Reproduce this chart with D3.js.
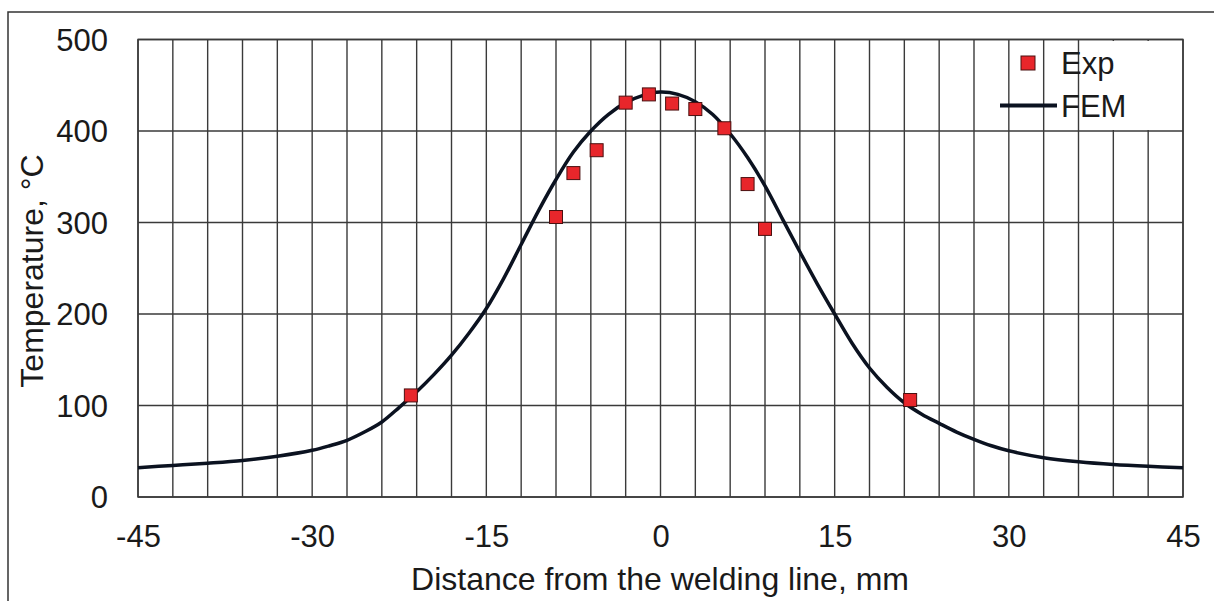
<!DOCTYPE html>
<html>
<head>
<meta charset="utf-8">
<script src="https://cdn.jsdelivr.net/npm/d3@7"></script>
<style>
  html, body { margin: 0; padding: 0; background: #fff; }
  svg { display: block; font-family: "Liberation Sans", Arial, sans-serif; }
</style>
</head>
<body>
<svg id="chart" width="1214" height="601"></svg>
<script>
// ---- data ----
const xTickLabels = [-45, -30, -15, 0, 15, 30, 45];
const yTickLabels = [0, 100, 200, 300, 400, 500];
const xGridStep = 3;

const femX = [-45,-42,-39,-36,-33,-30,-28.5,-27,-25.5,-24,-22.5,-21,-19.5,-18,-16.5,-15,-13.5,-12,-10.5,-9,-7.5,-6,-4.5,-3,-1.5,0,1.5,3,4.5,6,7.5,9,10.5,12,13.5,15,16.5,18,19.5,21,22.5,24,25.5,27,28.5,30,33,36,39,42,45];
const femT = [32,34.5,37,40,44.5,51,56,62,71,82,98,115,134,155,179,206,239,276,313,347,377,400,418,431,439,442.5,440,432,418,397,371,340,304,268,233,200,168,141,120,103,90.5,80.5,71,63,56,50.5,43,38.5,35.5,33.5,32];

const expX = [-21.5, -9, -7.5, -5.5, -3, -1, 1, 3, 5.5, 7.5, 9, 21.5];
const expT = [111, 306, 354, 379, 431, 440, 430, 424, 403, 342, 293, 106];

const seriesNames = ["Exp", "FEM"];
const xTitle = "Distance from the welding line, mm";
const yTitle = "Temperature, °C";

// ---- layout ----
const svg = d3.select("#chart");
const pL = 138, pR = 1183, pT = 39.5, pB = 497;
const x = d3.scaleLinear().domain([-45, 45]).range([pL, pR]);
const y = d3.scaleLinear().domain([0, 500]).range([pB, pT]);

const gridColor = "#3a3a3a";
const fontSize = 31;
const textColor = "#1a1a1a";

// outer frame
svg.append("rect")
  .attr("x", 8).attr("y", 12).attr("width", 1215).attr("height", 600)
  .attr("fill", "#fff").attr("stroke", "#333").attr("stroke-width", 1.5);

// vertical grid
const xGrid = d3.range(-45, 45 + 0.001, xGridStep);
svg.append("g").selectAll("line").data(xGrid).join("line")
  .attr("x1", d => x(d)).attr("x2", d => x(d))
  .attr("y1", pT).attr("y2", pB)
  .attr("stroke", gridColor).attr("stroke-width", 1.4);

// horizontal grid
svg.append("g").selectAll("line").data(yTickLabels).join("line")
  .attr("x1", pL).attr("x2", pR)
  .attr("y1", d => y(d)).attr("y2", d => y(d))
  .attr("stroke", gridColor).attr("stroke-width", 1.4);

// legend background (covers grid)
svg.append("rect")
  .attr("x", x(36.3)).attr("y", pT + 1.5)
  .attr("width", x(44.8) - x(36.3)).attr("height", y(400) - pT - 2.5)
  .attr("fill", "#fff");

// plot border
svg.append("rect")
  .attr("x", pL).attr("y", pT).attr("width", pR - pL).attr("height", pB - pT)
  .attr("fill", "none").attr("stroke", gridColor).attr("stroke-width", 1.5);

// axes (labels only)
const xAxis = d3.axisBottom(x).tickValues(xTickLabels).tickSize(0).tickPadding(0).tickFormat(d => String(d));
const gx = svg.append("g").attr("transform", `translate(0,${pB})`).call(xAxis);
gx.select(".domain").remove();
gx.selectAll("text").attr("font-size", fontSize).attr("fill", textColor)
  .attr("font-family", "Liberation Sans, Arial, sans-serif")
  .attr("dy", null).attr("y", 50);

const yAxis = d3.axisLeft(y).tickValues(yTickLabels).tickSize(0).tickPadding(0).tickFormat(d => String(d));
const gy = svg.append("g").attr("transform", `translate(108,0)`).call(yAxis);
gy.select(".domain").remove();
gy.selectAll("text").attr("font-size", fontSize).attr("fill", textColor)
  .attr("font-family", "Liberation Sans, Arial, sans-serif")
  .attr("dy", "0.35em").attr("x", 0);

// axis titles
svg.append("text")
  .attr("x", (412 + 908) / 2).attr("y", 590)
  .attr("text-anchor", "middle").attr("font-size", 32).attr("fill", textColor)
  .text(xTitle);

svg.append("text")
  .attr("transform", `translate(43,271) rotate(-90)`)
  .attr("text-anchor", "middle").attr("font-size", 32).attr("fill", textColor)
  .text(yTitle);

// FEM line
const femData = femX.map((d, i) => [d, femT[i]]);
const line = d3.line().x(d => x(d[0])).y(d => y(d[1])).curve(d3.curveCatmullRom.alpha(0.5));
svg.append("path").datum(femData)
  .attr("d", line).attr("fill", "none")
  .attr("stroke", "#0b1220").attr("stroke-width", 3.5)
  .attr("stroke-linejoin", "round");

// Exp markers
const ms = 13;
const expData = expX.map((d, i) => [d, expT[i]]);
svg.append("g").selectAll("rect").data(expData).join("rect")
  .attr("x", d => x(d[0]) - ms / 2).attr("y", d => y(d[1]) - ms / 2)
  .attr("width", ms).attr("height", ms)
  .attr("fill", "#e8262b").attr("stroke", "#4a1010").attr("stroke-width", 1);

// legend
const lg = svg.append("g");
lg.append("rect")
  .attr("x", 1028 - 7).attr("y", 63 - 7).attr("width", 14).attr("height", 14)
  .attr("fill", "#e8262b").attr("stroke", "#4a1010").attr("stroke-width", 1);
lg.append("text").attr("x", 1061).attr("y", 74)
  .attr("font-size", fontSize).attr("fill", textColor).text(seriesNames[0]);
lg.append("line").attr("x1", 1000).attr("x2", 1057).attr("y1", 105.5).attr("y2", 105.5)
  .attr("stroke", "#0b1220").attr("stroke-width", 4);
lg.append("text").attr("x", 1061).attr("y", 117)
  .attr("font-size", fontSize).attr("fill", textColor).text(seriesNames[1]);
</script>
</body>
</html>
